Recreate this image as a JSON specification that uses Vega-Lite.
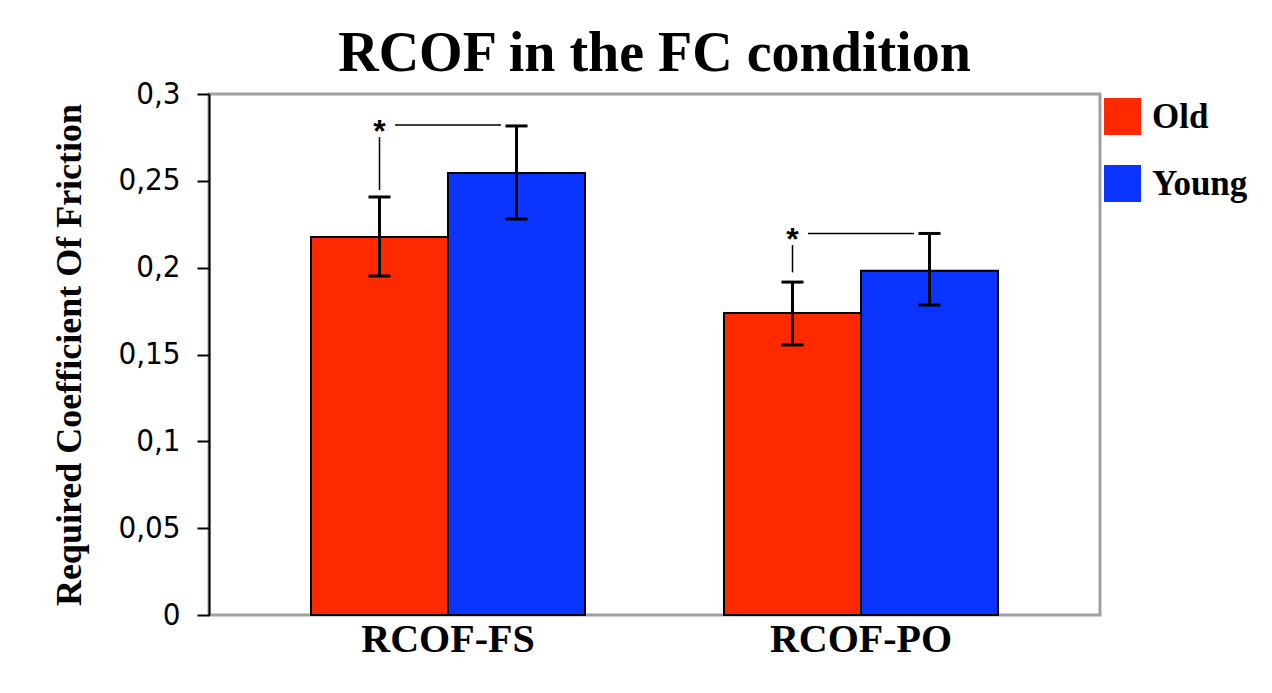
{
  "$schema": "https://vega.github.io/schema/vega-lite/v6.json",
  "width": 891,
  "height": 521,
  "autosize": {"type": "none"},
  "padding": {"left": 209, "top": 94, "right": 172, "bottom": 78},
  "background": "white",
  "title": {
    "text": "RCOF in the FC condition",
    "font": "Liberation Serif",
    "fontSize": 56,
    "fontWeight": "bold",
    "color": "black",
    "anchor": "middle",
    "frame": "group",
    "offset": -5
  },
  "datasets": {
    "bars": [
      {"cond": "RCOF-FS", "group": "Old", "mean": 0.2177, "lo": 0.1952, "hi": 0.2407},
      {"cond": "RCOF-FS", "group": "Young", "mean": 0.2545, "lo": 0.2280, "hi": 0.2816},
      {"cond": "RCOF-PO", "group": "Old", "mean": 0.1739, "lo": 0.1555, "hi": 0.1917},
      {"cond": "RCOF-PO", "group": "Young", "mean": 0.1982, "lo": 0.1785, "hi": 0.2197}
    ],
    "sig": [
      {"cond": "RCOF-FS", "group": "Old", "label": "*", "bracket": 0.2821, "vlo": 0.2447, "vhi": 0.2752},
      {"cond": "RCOF-PO", "group": "Old", "label": "*", "bracket": 0.2197, "vlo": 0.1973, "vhi": 0.2130}
    ]
  },
  "encoding": {
    "x": {
      "field": "cond",
      "type": "nominal",
      "sort": ["RCOF-FS", "RCOF-PO"],
      "scale": {"paddingInner": 0.3366, "paddingOuter": 0.247},
      "axis": {
        "title": null,
        "domain": false,
        "ticks": false,
        "labelAngle": 0,
        "labelFont": "Liberation Serif",
        "labelFontSize": 40,
        "labelFontWeight": "bold",
        "labelColor": "black",
        "labelPadding": 4,
        "labelLimit": 500
      }
    }
  },
  "resolve": {"axis": {"y": "independent"}, "scale": {"y": "shared"}},
  "layer": [
    {
      "data": {"name": "bars"},
      "mark": {"type": "bar", "stroke": "black", "strokeWidth": 2, "opacity": 1},
      "encoding": {
        "xOffset": {"field": "group", "type": "nominal", "sort": ["Old", "Young"]},
        "y": {
          "field": "mean",
          "type": "quantitative",
          "scale": {"domain": [0, 0.3], "nice": false, "zero": true},
          "axis": {
            "title": "Required Coefficient Of Friction",
            "titleFont": "Liberation Serif",
            "titleFontSize": 36,
            "titleFontWeight": "bold",
            "titleColor": "black",
            "titlePadding": 29,
            "values": [0, 0.05, 0.1, 0.15, 0.2, 0.25, 0.3],
            "labelExpr": "replace(format(datum.value, '.2~f'), '.', ',')",
            "labelFont": "DejaVu Sans Condensed",
            "labelFontSize": 31,
            "labelColor": "black",
            "labelPadding": 17,
            "tickSize": 12,
            "tickWidth": 2,
            "tickColor": "black",
            "domainColor": "black",
            "domainWidth": 2,
            "grid": false
          }
        },
        "color": {
          "field": "group",
          "type": "nominal",
          "sort": ["Old", "Young"],
          "scale": {"domain": ["Old", "Young"], "range": ["#ff2900", "#0b34ff"]},
          "legend": {
            "title": null,
            "orient": "none",
            "legendX": 895,
            "legendY": 4,
            "padding": 0,
            "symbolType": "square",
            "symbolSize": 1369,
            "symbolStrokeWidth": 0,
            "symbolOpacity": 1,
            "labelFont": "Liberation Serif",
            "labelFontSize": 35,
            "labelFontWeight": "bold",
            "labelColor": "black",
            "labelOffset": 11,
            "rowPadding": 30,
            "labelLimit": 300
          }
        }
      }
    },
    {
      "data": {"name": "bars"},
      "mark": {"type": "rule", "color": "black", "strokeWidth": 3},
      "encoding": {
        "xOffset": {"field": "group", "type": "nominal", "sort": ["Old", "Young"]},
        "y": {"field": "lo", "type": "quantitative", "axis": null},
        "y2": {"field": "hi"}
      }
    },
    {
      "data": {"name": "bars"},
      "mark": {"type": "tick", "color": "black", "size": 22, "thickness": 3, "orient": "horizontal", "opacity": 1},
      "encoding": {
        "xOffset": {"field": "group", "type": "nominal", "sort": ["Old", "Young"]},
        "y": {"field": "lo", "type": "quantitative", "axis": null}
      }
    },
    {
      "data": {"name": "bars"},
      "mark": {"type": "tick", "color": "black", "size": 22, "thickness": 3, "orient": "horizontal", "opacity": 1},
      "encoding": {
        "xOffset": {"field": "group", "type": "nominal", "sort": ["Old", "Young"]},
        "y": {"field": "hi", "type": "quantitative", "axis": null}
      }
    },
    {
      "data": {"name": "sig"},
      "mark": {"type": "rule", "color": "black", "strokeWidth": 1.5},
      "encoding": {
        "xOffset": {"field": "group", "type": "nominal", "sort": ["Old", "Young"]},
        "y": {"field": "vlo", "type": "quantitative", "axis": null},
        "y2": {"field": "vhi"}
      }
    },
    {
      "data": {"name": "sig"},
      "mark": {"type": "tick", "color": "black", "size": 106, "thickness": 1.5, "orient": "horizontal", "opacity": 1},
      "encoding": {
        "y": {"field": "bracket", "type": "quantitative", "axis": null}
      }
    },
    {
      "data": {"name": "sig"},
      "mark": {"type": "text", "font": "Liberation Sans", "fontSize": 32, "fontWeight": "bold", "color": "black", "baseline": "alphabetic", "dy": 17},
      "encoding": {
        "xOffset": {"field": "group", "type": "nominal", "sort": ["Old", "Young"]},
        "y": {"field": "bracket", "type": "quantitative", "axis": null},
        "text": {"field": "label"}
      }
    }
  ],
  "config": {
    "view": {"stroke": "#a0a0a0", "strokeWidth": 3},
    "axis": {"grid": false}
  }
}
